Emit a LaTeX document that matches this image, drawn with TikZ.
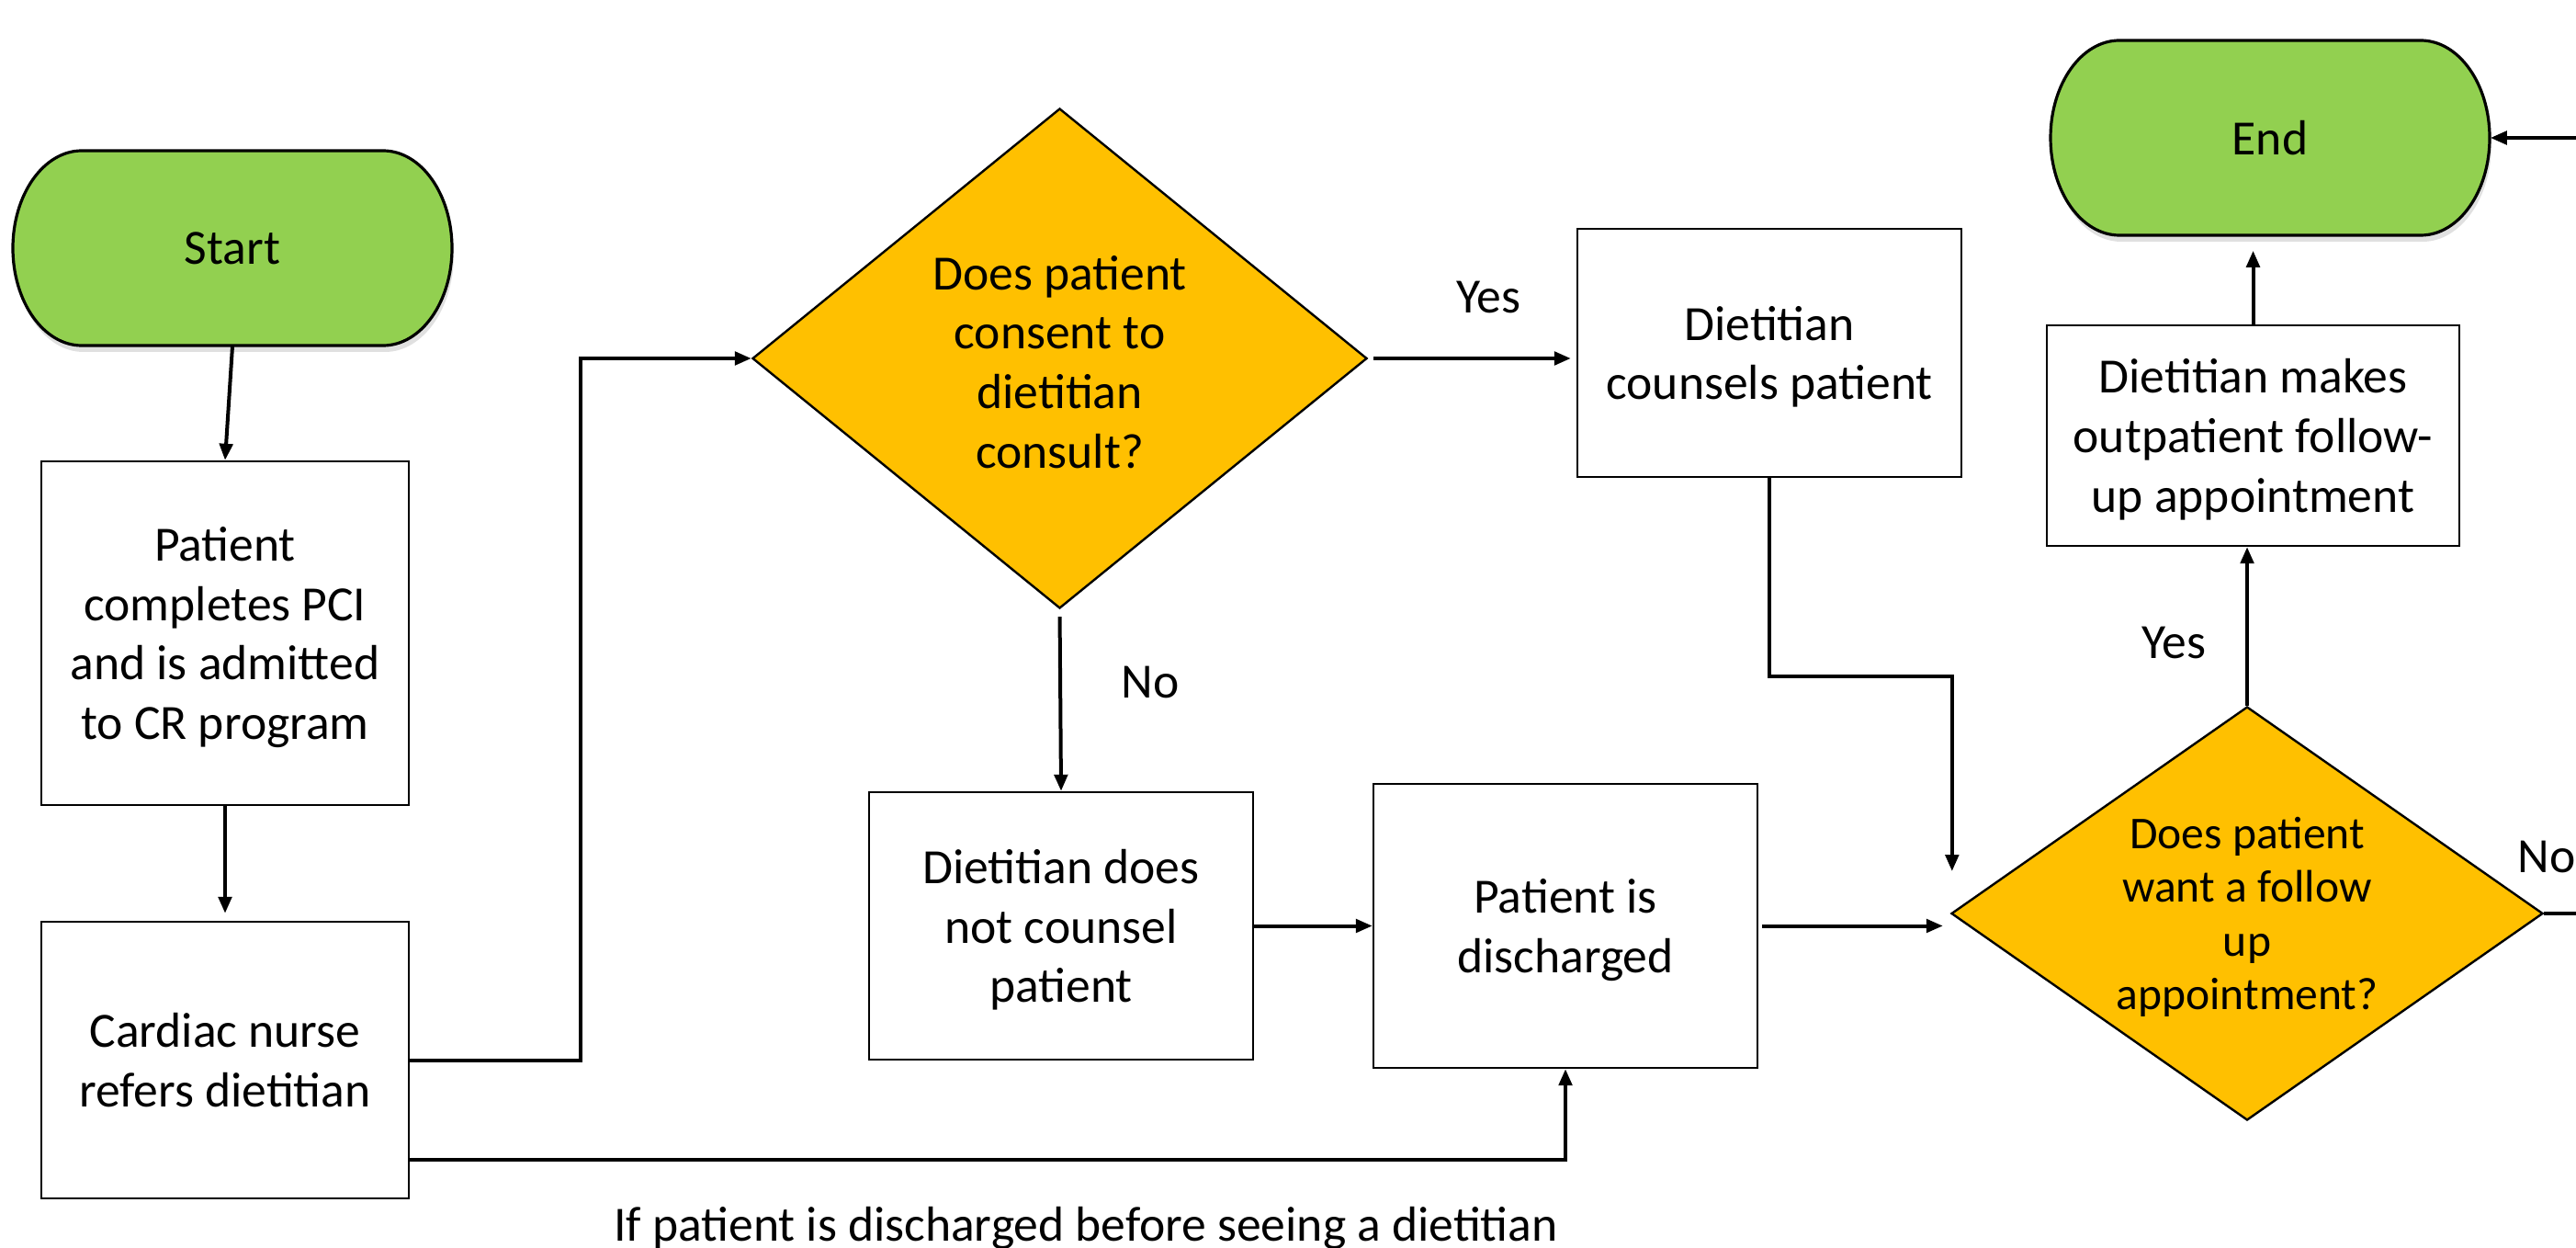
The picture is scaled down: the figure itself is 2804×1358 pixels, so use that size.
\documentclass[tikz,border=0pt]{standalone}
\usepackage{fontspec}
\setmainfont{Carlito}
\usetikzlibrary{shapes.geometric,arrows.meta,calc}
\definecolor{termgreen}{HTML}{92D050}
\definecolor{decorange}{HTML}{FFC000}
\tikzset{
  mainfont/.style={font=\fontsize{13.4}{16.2}\selectfont},
  procbox/.style={draw=black, line width=0.6pt, fill=white, rectangle, inner sep=2pt, align=center, mainfont, text depth=-1.2pt},
  decbox/.style={draw=black, line width=0.6pt, fill=decorange, diamond, inner sep=0pt},
  dectext/.style={align=center, inner sep=0pt, mainfont},
  dectextsmall/.style={align=center, inner sep=0pt, font=\fontsize{12.4}{14.6}\selectfont},
  termtext/.style={inner sep=0pt, align=center, mainfont},
  termline/.style={draw=black, line width=0.8pt, fill=termgreen},
  conn/.style={draw=black, line width=1pt, -{Triangle[length=4.5pt,width=3.6pt]}},
  plainconn/.style={draw=black, line width=1pt},
  lbl/.style={inner sep=0pt, mainfont}
}
\newcommand\drawterminal[4]{%
  \fill[black,opacity=0.12] (#2-162,#3+106-7) -- (#2+166,#3+106-7) arc[start angle=90,end angle=-90,x radius=18.75pt,y radius=26.5pt] -- (#2-162,#3-106-7) arc[start angle=270,end angle=90,x radius=18.75pt,y radius=26.5pt] -- cycle;
  \path[termline] (#2-164,#3+106) -- (#2+164,#3+106) arc[start angle=90,end angle=-90,x radius=18.75pt,y radius=26.5pt] -- (#2-164,#3-106) arc[start angle=270,end angle=90,x radius=18.75pt,y radius=26.5pt] -- cycle;
  \node[termtext, minimum width=119.5pt, minimum height=53pt] (#1) at (#2,#3) {#4};
}
\begin{document}
\begin{tikzpicture}[x=0.25pt,y=0.25pt]
\useasboundingbox (0,0) rectangle (2804,-1358);
\fill[white] (0,0) rectangle (2804,-1358);

% terminals
\drawterminal{start}{253}{-270}{Start}
\drawterminal{end}{2471}{-150}{End}

% process boxes
\node[procbox, minimum width=100pt, minimum height=93.5pt] (pci) at (245,-689)
  {Patient\\completes PCI\\and is admitted\\to CR program};
\node[procbox, minimum width=100pt, minimum height=75.25pt] (nurse) at (245,-1153.5)
  {Cardiac nurse\\refers dietitian};
\node[procbox, minimum width=104.5pt, minimum height=67.5pt] (counsels) at (1926,-384)
  {Dietitian\\counsels patient};
\node[procbox, minimum width=104.5pt, minimum height=72.75pt] (notcounsel) at (1155,-1007.5)
  {Dietitian does\\not counsel\\patient};
\node[procbox, minimum width=104.5pt, minimum height=77.25pt] (discharged) at (1704,-1007.5)
  {Patient is\\discharged};
\node[procbox, minimum width=112.25pt, minimum height=60pt] (followup) at (2452.5,-474)
  {Dietitian makes\\outpatient follow-\\up appointment};

% decisions
\node[decbox, minimum width=167.25pt, minimum height=136pt] (d1) at (1153.5,-390) {};
\node[dectext] (d1t) at (1153.5,-394) {Does patient\\consent to\\dietitian\\consult?};
\node[decbox, minimum width=161pt, minimum height=112.5pt] (d2) at (2446,-994) {};
\node[dectextsmall] (d2t) at (2446,-998) {Does patient\\want a follow\\up\\appointment?};

% edge coordinates
\coordinate (rightno) at (2804,-994);
\coordinate (rightend) at (2804,-150);

% connectors
\draw[conn] (start.south) -- (pci.north);
\draw[conn, shorten >=2pt] (pci.south) -- (nurse.north);
\draw[conn] (nurse.east) -- ++(186,0) |- (d1.west);
\draw[conn, shorten <=1.5pt, shorten >=1.5pt] (d1.east) -- (d1.east -| counsels.west);
\draw[conn, shorten <=2pt] (d1.south) -- (notcounsel.north);
\draw[conn] (notcounsel.east) -- (notcounsel.east -| discharged.west);
\draw[conn] ([yshift=-27.1pt]nurse.east) -| (discharged.south);
\draw[conn, shorten <=1pt, shorten >=2pt] (discharged.east) -- (discharged.east -| d2.west);
\draw[conn] (counsels.south) -- ++(0,-216) -| ([xshift=0.5pt,yshift=11.5pt]d2.west);
\draw[conn] (d2.north) -- (d2.north |- followup.south);
\draw[conn, shorten >=4pt] (followup.north) -- (followup.north |- end.south);
\draw[plainconn] (d2.east) -- (rightno);
\draw[conn] (rightend) -- (end.east);

% labels
\node[lbl] (yes1) at (1620,-324) {Yes};
\node[lbl] (no1) at (1252,-742) {No};
\node[lbl] (yes2) at (2366,-699) {Yes};
\node[lbl] (no2) at (2772,-932) {No};
\node[lbl] (note) at (1182,-1336) {If patient is discharged before seeing a dietitian};
\end{tikzpicture}
\end{document}
